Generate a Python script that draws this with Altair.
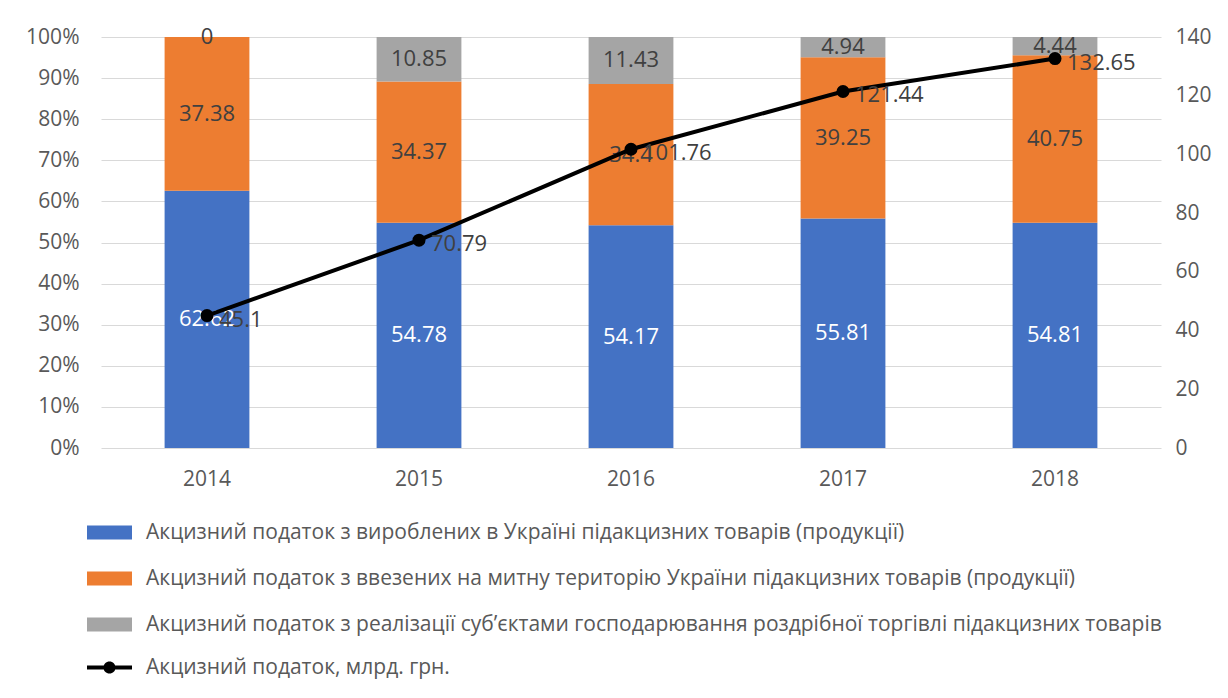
import altair as alt
import pandas as pd

years = ["2014", "2015", "2016", "2017", "2018"]
series_names = [
    "Акцизний податок з вироблених в Україні підакцизних товарів (продукції)",
    "Акцизний податок з ввезених на митну територію України підакцизних товарів (продукції)",
    "Акцизний податок з реалізації суб’єктами господарювання роздрібної торгівлі підакцизних товарів",
]
line_name = "Акцизний податок, млрд. грн."
domestic = [62.62, 54.78, 54.17, 55.81, 54.81]
imported = [37.38, 34.37, 34.4, 39.25, 40.75]
retail = [0, 10.85, 11.43, 4.94, 4.44]
total = [45.1, 70.79, 101.76, 121.44, 132.65]
colors = ["#4472C4", "#ED7D31", "#A5A5A5"]
label_colors = ["#FFFFFF", "#404040", "#404040"]

rows = []
for i, y in enumerate(years):
    for k, vals in enumerate([domestic, imported, retail]):
        rows.append({"year": y, "series": series_names[k], "value": vals[i], "order": k,
                     "label": f"{vals[i]:g}", "lc": label_colors[k]})
bars_df = pd.DataFrame(rows)
line_df = pd.DataFrame({"year": years, "total": total,
                        "label": [f"{v:g}" for v in total],
                        "series": [line_name] * len(years)})

FONT = "Open Sans"
AX = "#595959"

xenc = alt.X("year:N", sort=years,
             scale=alt.Scale(paddingInner=0.6, paddingOuter=0.3),
             axis=alt.Axis(title=None, labelAngle=0, ticks=False, domain=False,
                           labelPadding=20, labelFontSize=21, labelColor=AX, labelFont=FONT))

yleft = alt.Scale(domain=[0, 100], nice=False)
left_axis = alt.Axis(title=None, values=list(range(0, 101, 10)),
                     labelExpr="datum.value + '%'", grid=True, gridColor="#D9D9D9",
                     gridWidth=1, domain=False, ticks=False, labelPadding=22,
                     labelFontSize=21, labelColor=AX, labelFont=FONT)

base = alt.Chart(bars_df).transform_stack(
    stack="value", groupby=["year"], as_=["y0", "y1"],
    sort=[alt.SortField("order", order="ascending")]
).transform_calculate(mid="(datum.y0 + datum.y1) / 2")

bars = base.mark_bar().encode(
    x=xenc,
    y=alt.Y("y0:Q", scale=yleft, axis=left_axis),
    y2="y1:Q",
    color=alt.Color("series:N", scale=alt.Scale(domain=series_names, range=colors),
                    legend=alt.Legend(orient="none", legendX=-14, legendY=473,
                                      direction="vertical", title=None,
                                      symbolType="M-1,-0.31H1V0.31H-1Z", symbolSize=2025,
                                      symbolStrokeWidth=0, labelFontSize=21, labelColor=AX,
                                      labelFont=FONT, labelLimit=1200, rowPadding=13,
                                      padding=0, labelOffset=14, symbolOpacity=1)),
)

bar_labels = base.mark_text(fontSize=22, font=FONT, baseline="middle").encode(
    x=alt.X("year:N", sort=years),
    y=alt.Y("mid:Q", scale=yleft, axis=left_axis),
    text="label:N",
    color=alt.Color("lc:N", scale=None),
)

yright = alt.Scale(domain=[0, 140], nice=False)
right_axis = alt.Axis(orient="right", title=None, values=list(range(0, 141, 20)),
                      grid=False, domain=False, ticks=False, labelPadding=14,
                      labelFontSize=21, labelColor=AX, labelFont=FONT)
line_base = alt.Chart(line_df)
line = line_base.mark_line(color="black", strokeWidth=4).encode(
    x=alt.X("year:N", sort=years),
    y=alt.Y("total:Q", scale=yright, axis=right_axis),
)
points = line_base.mark_point(filled=True, size=170, opacity=1).encode(
    x=alt.X("year:N", sort=years),
    y=alt.Y("total:Q", scale=yright, axis=right_axis),
    fill=alt.Fill("series:N", scale=alt.Scale(domain=[line_name], range=["black"]),
                  legend=alt.Legend(orient="none", legendX=-14, legendY=608,
                                    title=None,
                                    symbolType="M-1,-0.09H1V0.09H-1Z M0.27,0 A0.27,0.27 0 1,1 -0.27,0 A0.27,0.27 0 1,1 0.27,0Z",
                                    symbolSize=2025, symbolStrokeWidth=0,
                                    labelFontSize=21, labelColor=AX, labelFont=FONT,
                                    labelLimit=1200, padding=0, labelOffset=14,
                                    symbolOpacity=1)),
)
line_labels = line_base.mark_text(fontSize=22, font=FONT, align="left", baseline="middle",
                                  dx=12, dy=4, color="#404040").encode(
    x=alt.X("year:N", sort=years),
    y=alt.Y("total:Q", scale=yright, axis=right_axis),
    text="label:N",
)

chart = alt.layer(
    alt.layer(bars, bar_labels),
    alt.layer(line, points, line_labels),
).resolve_scale(y="independent").properties(
    width=1060, height=411,
    padding={"left": 93, "top": 29, "right": 59, "bottom": 242},
    autosize=alt.AutoSizeParams(type="none"),
).configure_view(stroke=None)

chart.save("out.html", embed_options={"renderer": "svg", "actions": False})
